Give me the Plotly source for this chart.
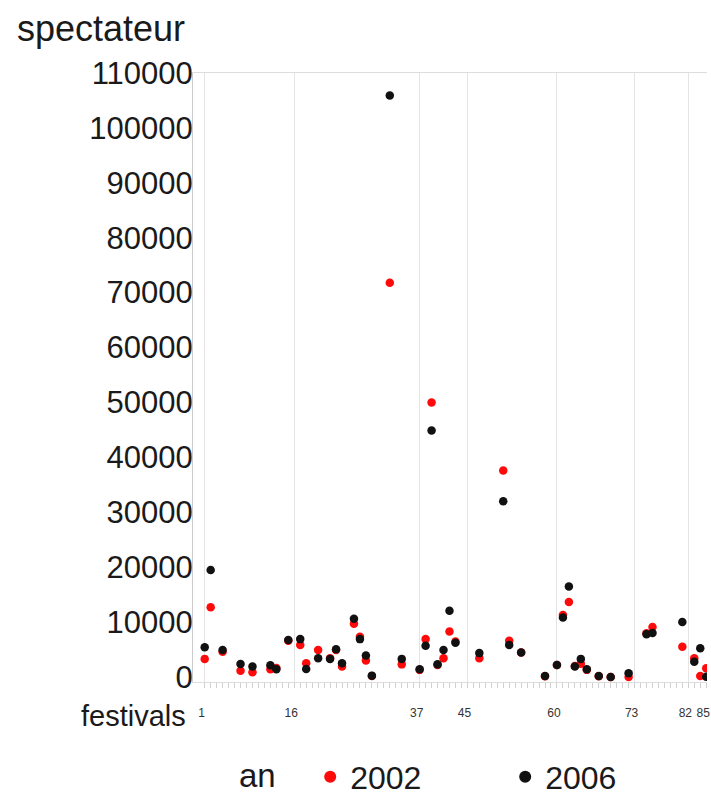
import plotly.graph_objects as go

festival = [1, 2, 4, 7, 9, 12, 13, 15, 17, 18, 20, 22, 23, 24, 26, 27, 28, 29, 32, 34,
            37, 38, 39, 40, 41, 42, 43, 47, 51, 52, 54, 58, 60, 61, 62, 63, 64, 65, 67, 69,
            72, 75, 76, 81, 83, 84, 85]
spect_2002 = [3300, 12700, 4600, 1150, 860, 1400, 1650, 6600, 5850, 2500, 4900, 3400, 4900, 1900, 9700, 7350, 3000, 200, 71800, 2300,
              1300, 6900, 50000, 2200, 3400, 8300, 6450, 3400, 37600, 6600, 4450, 150, 2200, 11300, 13650, 2000, 2400, 1300, 150, 0,
              0, 7950, 9100, 5500, 3400, 180, 1600]
spect_2006 = [5400, 19500, 4900, 2350, 1900, 2150, 1400, 6750, 6900, 1450, 3400, 3300, 5050, 2500, 10600, 6900, 3900, 250, 105900, 3300,
              1400, 5700, 44900, 2300, 4900, 12050, 6250, 4350, 32000, 5850, 4450, 180, 2200, 10850, 16500, 1900, 3300, 1400, 180, 0,
              700, 7800, 8000, 10000, 2800, 5250, 50]
x_ticks = [1, 16, 37, 45, 60, 73, 82, 85]
y_ticks = list(range(0, 110001, 10000))
series_names = ["2002", "2006"]

fig = go.Figure()
fig.add_trace(go.Scatter(x=festival, y=spect_2002, mode="markers", name=series_names[0],
                         marker=dict(color="#ff0a0a", size=8.5, line=dict(width=0))))
fig.add_trace(go.Scatter(x=festival, y=spect_2006, mode="markers", name=series_names[1],
                         marker=dict(color="#111111", size=8.5, line=dict(width=0))))

font_main = "Liberation Sans, Arial, sans-serif"

fig.update_layout(
    width=711, height=796,
    margin=dict(l=193, r=4, t=73, b=114, autoexpand=False),
    paper_bgcolor="white", plot_bgcolor="white",
    font=dict(family=font_main, color="#1a1a1a"),
    showlegend=True,
    legend=dict(orientation="h", x=0.228, xanchor="left", y=-0.156, yanchor="middle",
                font=dict(size=32, family=font_main, color="#1a1a1a"),
                itemsizing="constant", entrywidth=150, itemwidth=30),
    xaxis=dict(range=[-0.96, 85.13], tickmode="array", tickvals=x_ticks,
               ticktext=[str(v) for v in x_ticks],
               tickfont=dict(size=12, family=font_main, color="#333"),
               tickangle=0, ticklabeloverflow="allow", ticklabelshift=-3,
               showgrid=True, gridcolor="#e4e4e4", gridwidth=1,
               ticks="outside", ticklen=20, tickcolor="rgba(0,0,0,0)",
               minor=dict(tickmode="array", tickvals=list(range(1, 86)), ticks="outside",
                          ticklen=5, tickcolor="#d0d0d0", showgrid=False),
               showline=True, linecolor="#dddddd", linewidth=1, mirror=True,
               zeroline=False, fixedrange=True),
    yaxis=dict(range=[-910, 110000], tickmode="array", tickvals=y_ticks,
               ticktext=[str(v) for v in y_ticks],
               tickfont=dict(size=31, family=font_main, color="#1a1a1a"),
               showgrid=False, zeroline=False,
               showline=True, linecolor="#cccccc", linewidth=1,
               ticks="", ticklabelstandoff=-7, fixedrange=True),
    annotations=[
        dict(text="spectateur", xref="paper", yref="paper", x=-0.346, y=1.0, yshift=45,
             xanchor="left", yanchor="middle", showarrow=False,
             font=dict(size=36, family=font_main, color="#1a1a1a")),
        dict(text="festivals", xref="paper", yref="paper", x=-0.01, y=0, yshift=-34,
             xanchor="right", yanchor="middle", showarrow=False,
             font=dict(size=29, family=font_main, color="#1a1a1a")),
        dict(text="an", xref="paper", yref="paper", x=0.086, y=0, yshift=-93,
             xanchor="left", yanchor="middle", showarrow=False,
             font=dict(size=33, family=font_main, color="#1a1a1a")),
    ],
)

fig.write_html("out.html", config={"displayModeBar": False},
               post_script="document.body.style.margin='0px';document.body.style.overflow='hidden';")
